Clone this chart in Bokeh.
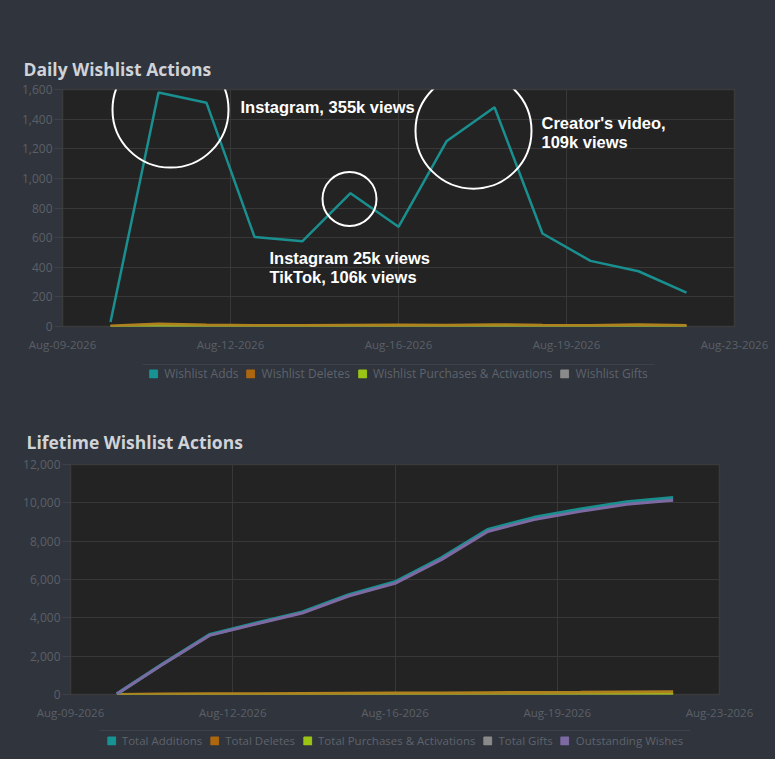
import math
import pandas as pd
from bokeh.plotting import figure
from bokeh.models import (Range1d, FixedTicker, DatetimeTickFormatter, NumeralTickFormatter,
                          Title, Legend, LegendItem)
from bokeh.embed import file_html
from bokeh.resources import INLINE
from bokeh.core.properties import value

# ---------------- data ----------------
dates = ["2026-08-10", "2026-08-11", "2026-08-12", "2026-08-13", "2026-08-14", "2026-08-15",
         "2026-08-16", "2026-08-17", "2026-08-18", "2026-08-19", "2026-08-20", "2026-08-21",
         "2026-08-22"]
wishlist_adds = [30, 1580, 1510, 605, 576, 900, 673, 1250, 1480, 628, 443, 373, 228]
wishlist_deletes = [5, 18, 12, 8, 8, 10, 12, 10, 14, 10, 8, 14, 8]
wishlist_purchases = [0, 0, 0, 0, 0, 0, 0, 0, 0, 0, 0, 0, 0]
wishlist_gifts = [0, 0, 0, 0, 0, 0, 0, 0, 0, 0, 0, 0, 0]

total_additions = [30, 1610, 3120, 3720, 4300, 5200, 5870, 7120, 8600, 9230, 9670, 10050, 10270]
total_deletes = [5, 23, 35, 43, 51, 61, 73, 83, 97, 107, 115, 129, 137]
total_purchases = [0, 0, 0, 0, 0, 0, 0, 0, 0, 0, 0, 0, 0]
total_gifts = [0, 0, 0, 0, 0, 0, 0, 0, 0, 0, 0, 0, 0]
outstanding_wishes = [25, 1587, 3085, 3677, 4249, 5139, 5797, 7037, 8503, 9123, 9555, 9921, 10133]

daily_labels = ["Wishlist Adds", "Wishlist Deletes", "Wishlist Purchases & Activations",
                "Wishlist Gifts"]
lifetime_labels = ["Total Additions", "Total Deletes", "Total Purchases & Activations",
                   "Total Gifts", "Outstanding Wishes"]

tick_dates = ["2026-08-09 00:00", "2026-08-12 12:00", "2026-08-16 00:00",
              "2026-08-19 12:00", "2026-08-23 00:00"]

x = pd.to_datetime(dates)

PAGE_BG = "#30343c"
PLOT_BG = "#232323"
GRID = "#383838"
TICK_TXT = "#5b6068"
TEAL = "#1a8f8f"
SQ_TEAL = "#179393"
ORANGE = "#ad670f"
DEL_LINE = "#b0821e"
GREEN = "#9cc414"
GRAY = "#8a8a8a"
PURPLE = "#7d6aa3"
FONT = "Open Sans"


def ms(s):
    return pd.Timestamp(s).value / 1e6


def base_fig(title, w, h, left, right, top, bottom, ymax, yticks, toffset, tstand):
    p = figure(width=w, height=h, x_axis_type="datetime", output_backend="svg",
               toolbar_location=None,
               x_range=Range1d(ms("2026-08-09"), ms("2026-08-23")),
               y_range=Range1d(0, ymax),
               min_border_left=left, min_border_right=right,
               min_border_top=top, min_border_bottom=bottom)
    p.background_fill_color = PLOT_BG
    p.border_fill_color = PAGE_BG
    p.outline_line_color = "#3a3a3a"
    p.outline_line_width = 1.5
    t = Title(text=title, align="left", offset=toffset, text_font=FONT,
              text_font_size="17.5px", text_font_style="bold", text_color="#cfd3d8",
              standoff=tstand)
    p.add_layout(t, "above")
    p.xaxis.ticker = FixedTicker(ticks=[ms(d) for d in tick_dates])
    fmt = "%b-%d-%Y"
    p.xaxis.formatter = DatetimeTickFormatter(days=fmt, hours=fmt, months=fmt, years=fmt,
                                              minutes=fmt, hourmin=fmt)
    p.yaxis.ticker = FixedTicker(ticks=yticks)
    p.yaxis.formatter = NumeralTickFormatter(format="0,0")
    for ax in (p.xaxis[0], p.yaxis[0]):
        ax.axis_line_color = None
        ax.minor_tick_line_color = None
        ax.major_label_text_color = TICK_TXT
        ax.major_label_text_font = FONT
        ax.major_label_text_font_size = "12px"
    p.xaxis.major_label_text_font_size = "11.5px"
    p.xaxis.major_tick_line_color = None
    p.xaxis.major_label_standoff = 4
    p.yaxis.major_tick_line_color = "#3e4148"
    p.yaxis.major_tick_in = 0
    p.yaxis.major_tick_out = 8
    p.yaxis.major_label_standoff = 2
    p.grid.grid_line_color = GRID
    p.grid.grid_line_width = 1
    return p


def legend_fig(labels, colors, w, h, left, right, top, bottom, fsize):
    q = figure(width=w, height=h, output_backend="svg", toolbar_location=None,
               x_axis_location="above", y_axis_location=None,
               x_range=Range1d(0, 1), y_range=Range1d(0, 1),
               min_border_left=left, min_border_right=right,
               min_border_top=top, min_border_bottom=bottom)
    q.background_fill_color = PAGE_BG
    q.border_fill_color = PAGE_BG
    q.outline_line_color = None
    q.grid.visible = False
    q.xaxis.ticker = FixedTicker(ticks=[])
    q.xaxis.axis_line_color = "#3d4149"
    q.xaxis.axis_line_width = 1
    q.xaxis.major_tick_line_color = None
    q.xaxis.minor_tick_line_color = None
    items = []
    for lab, col in zip(labels, colors):
        r = q.quad(left=[math.nan], right=[math.nan], top=[math.nan], bottom=[math.nan],
                   fill_color=col, line_color=col)
        items.append(LegendItem(label=lab, renderers=[r]))
    lg = Legend(items=items, orientation="horizontal", location="center",
                background_fill_alpha=0, border_line_color=None,
                label_text_font=FONT, label_text_font_size=fsize,
                label_text_color="#5e636c", glyph_width=10, glyph_height=10,
                label_standoff=6, spacing=7, padding=0, margin=0)
    q.add_layout(lg)
    return q


# ---------------- top chart ----------------
p1 = base_fig("Daily Wishlist Actions", 775, 355, 62, 41, 89, 29, 1600,
              [0, 200, 400, 600, 800, 1000, 1200, 1400, 1600], -39, 17)
p1.line(x, wishlist_gifts, line_color=GRAY, line_width=2.5)
p1.line(x, wishlist_purchases, line_color=GREEN, line_width=2.5)
p1.line(x, wishlist_deletes, line_color=DEL_LINE, line_width=2.5)
p1.line(x, wishlist_adds, line_color=TEAL, line_width=2.5)

circ_x = [ms("2026-08-11 06:00"), ms("2026-08-14 23:30"), ms("2026-08-17 13:30")]
circ_y = [1464, 861, 1322]
circ_r = [58, 27, 58]
p1.circle(x=circ_x, y=circ_y, radius=circ_r, radius_units="screen", fill_alpha=0,
          line_color="white", line_width=2)

ann_x = [ms("2026-08-12 17:00"), ms("2026-08-13 07:30"), ms("2026-08-13 07:30"),
         ms("2026-08-18 23:30"), ms("2026-08-18 23:30")]
ann_y = [1485, 461, 332, 1376, 1247]
ann_t = ["Instagram, 355k views", "Instagram 25k views", "TikTok, 106k views",
         "Creator's video,", "109k views"]
p1.text(x=ann_x, y=ann_y, text=ann_t, text_color="white", text_font=value("Liberation Sans"),
        text_font_style="bold", text_font_size="16.5px", text_baseline="middle",
        text_align="left")

l1 = legend_fig(daily_labels, [SQ_TEAL, ORANGE, GREEN, GRAY], 775, 40, 142, 121, 9, 13, "12px")

# ---------------- bottom chart ----------------
p2 = base_fig("Lifetime Wishlist Actions", 775, 327, 70, 56, 69, 27, 12000,
              [0, 2000, 4000, 6000, 8000, 10000, 12000], -44, 21)
p2.line(x, total_gifts, line_color=GRAY, line_width=3)
p2.line(x, total_purchases, line_color=GREEN, line_width=3)
p2.line(x, total_deletes, line_color=DEL_LINE, line_width=3)
p2.line(x, total_additions, line_color=TEAL, line_width=3.5)
p2.line(x, outstanding_wishes, line_color=PURPLE, line_width=3)

l2 = legend_fig(lifetime_labels, [SQ_TEAL, ORANGE, GREEN, GRAY, PURPLE], 775, 37, 99, 85, 8, 9,
                "11.5px")

html = file_html([p1, l1, p2, l2], INLINE)
html = html.replace("</head>", "<style>html, body {background-color: %s;}</style></head>" % PAGE_BG, 1)
open("out.html", "w").write(html)
